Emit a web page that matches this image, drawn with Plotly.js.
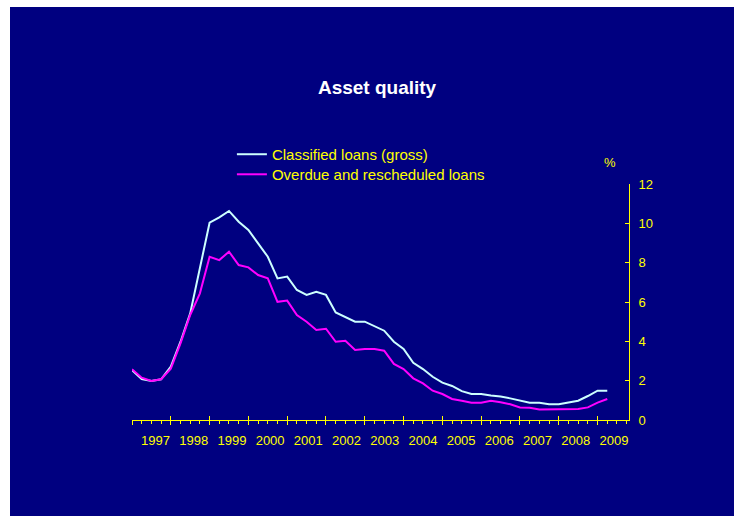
<!DOCTYPE html>
<html>
<head>
<meta charset="utf-8">
<script src="https://cdn.plot.ly/plotly-3.0.1.min.js"></script>
<style>
  html, body { margin: 0; padding: 0; background: #ffffff; }
  #chart { position: absolute; left: 10px; top: 7px; width: 724px; height: 509px; }
</style>
</head>
<body>
<div id="chart"></div>
<script>
// Quarterly series, first quarter of 1997 to second quarter of 2009 (% of total loans)
const startYear = 1997;
const classifiedLoans = [
  2.54, 2.08, 1.98, 2.07, 2.71, 3.98, 5.42, 7.74, 10.03, 10.30,
  10.63, 10.08, 9.66, 8.98, 8.30, 7.20, 7.29, 6.61, 6.36, 6.52,
  6.36, 5.47, 5.22, 5.00, 5.00, 4.78, 4.54, 3.98, 3.61, 2.91,
  2.59, 2.20, 1.90, 1.73, 1.47, 1.32, 1.32, 1.24, 1.19, 1.10,
  0.98, 0.88, 0.88, 0.80, 0.80, 0.88, 0.98, 1.22, 1.49, 1.49
];
const overdueLoans = [
  2.58, 2.15, 1.98, 2.07, 2.61, 3.90, 5.34, 6.44, 8.30, 8.13,
  8.56, 7.88, 7.76, 7.37, 7.20, 6.01, 6.07, 5.34, 5.00, 4.58,
  4.64, 3.98, 4.03, 3.56, 3.61, 3.61, 3.52, 2.85, 2.59, 2.12,
  1.86, 1.49, 1.32, 1.07, 0.98, 0.88, 0.88, 0.98, 0.90, 0.80,
  0.64, 0.62, 0.54, 0.54, 0.54, 0.54, 0.56, 0.64, 0.88, 1.07
];
const yearLabels = ['1997','1998','1999','2000','2001','2002','2003',
                    '2004','2005','2006','2007','2008','2009'];
const seriesNames = ['Classified loans (gross)', 'Overdue and rescheduled loans'];

// quarter index -> fractional year
const quarterX = classifiedLoans.map((_, i) => startYear + i / 4);

const NAVY = '#000080';
const YELLOW = '#ffff00';
const FONT = 'Liberation Sans, Arial, sans-serif';

const traces = [
  {
    x: quarterX, y: classifiedLoans, name: seriesNames[0],
    type: 'scatter', mode: 'lines', legend: 'legend',
    line: { color: '#ccffff', width: 2 }
  },
  {
    x: quarterX, y: overdueLoans, name: seriesNames[1],
    type: 'scatter', mode: 'lines', legend: 'legend2',
    line: { color: '#ff00ff', width: 2 }
  },
  // empty traces that bring the label axis and the upper tick axis into being
  { x: [null], y: [null], xaxis: 'x2', yaxis: 'y', showlegend: false, type: 'scatter', mode: 'lines' },
  { x: [null], y: [null], xaxis: 'x3', yaxis: 'y', showlegend: false, type: 'scatter', mode: 'lines' }
];

const xRange = [startYear, startYear + 12.81];

const legendBase = {
  xanchor: 'left', yanchor: 'top',
  bgcolor: 'rgba(0,0,0,0)', borderwidth: 0,
  font: { family: FONT, size: 15, color: YELLOW }
};

const layout = {
  width: 724, height: 509,
  paper_bgcolor: NAVY, plot_bgcolor: NAVY,
  margin: { l: 122, r: 105, t: 177, b: 96 },
  font: { family: FONT, color: YELLOW, size: 13 },
  title: {
    text: '<b>Asset quality</b>',
    font: { family: FONT, size: 19, color: '#ffffff' },
    xref: 'container', yref: 'container',
    x: 0.507, y: 0.843, xanchor: 'center', yanchor: 'middle'
  },
  showlegend: true,
  legend: Object.assign({ x: 0.201, y: 1.195 }, legendBase),
  legend2: Object.assign({ x: 0.201, y: 1.110 }, legendBase),
  // axis carrying the line, year ticks below and quarter ticks
  xaxis: {
    range: xRange, showgrid: false, zeroline: false,
    showline: true, linecolor: YELLOW, linewidth: 1,
    tickmode: 'linear', tick0: startYear, dtick: 1,
    ticks: 'outside', ticklen: 4, tickwidth: 1, tickcolor: YELLOW,
    minor: { tickmode: 'linear', tick0: startYear, dtick: 0.25, ticks: 'outside', ticklen: 3, tickwidth: 1, tickcolor: YELLOW },
    showticklabels: false, fixedrange: true
  },
  // upper half of the year ticks
  xaxis3: {
    overlaying: 'x', anchor: 'y', side: 'bottom',
    range: xRange, showgrid: false, zeroline: false, showline: false,
    tickmode: 'linear', tick0: startYear, dtick: 1,
    ticks: 'inside', ticklen: 4, tickwidth: 1, tickcolor: YELLOW,
    showticklabels: false, fixedrange: true
  },
  // year labels, set in the middle of each year's span
  xaxis2: {
    overlaying: 'x', anchor: 'y', side: 'bottom',
    range: [1996.385, 2009.395], showgrid: false, zeroline: false, showline: false,
    tickmode: 'array', tickvals: yearLabels.map(Number), ticktext: yearLabels,
    ticks: '', ticklabelstandoff: 11,
    tickfont: { family: FONT, size: 13, color: YELLOW }, fixedrange: true
  },
  yaxis: {
    side: 'right', range: [0, 12], showgrid: false, zeroline: false,
    showline: true, linecolor: YELLOW, linewidth: 1,
    tickmode: 'linear', tick0: 0, dtick: 2,
    ticks: 'inside', ticklen: 4, tickwidth: 1, tickcolor: YELLOW,
    ticklabelstandoff: 6,
    tickfont: { family: FONT, size: 13, color: YELLOW }, fixedrange: true
  },
  annotations: [
    {
      text: '%', xref: 'paper', yref: 'paper', x: 0.962, y: 1.093,
      showarrow: false, xanchor: 'center', yanchor: 'middle',
      font: { family: FONT, size: 13, color: YELLOW }
    }
  ]
};

Plotly.newPlot('chart', traces, layout, { staticPlot: true, displayModeBar: false });
</script>
</body>
</html>
